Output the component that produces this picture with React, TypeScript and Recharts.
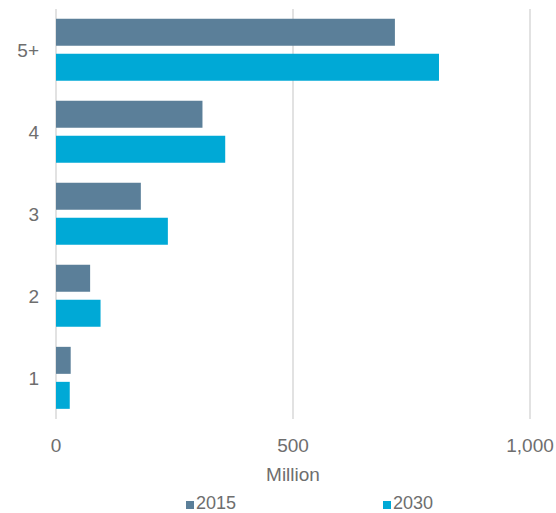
import React from 'react';
import { BarChart, Bar, XAxis, YAxis, CartesianGrid, Legend } from 'recharts';

const categories = ['5+', '4', '3', '2', '1'];
const values2015 = [715, 309, 179, 72, 31];
const values2030 = [808, 357, 236, 94, 29];
const xTicks = [0, 500, 1000];
const seriesNames = ['2015', '2030'];
const seriesColors = ['#5B7F99', '#00A9D6'];

const data = categories.map((c, i) => ({ name: c, v2015: values2015[i], v2030: values2030[i] }));

const FONT = '"Liberation Sans", Arial, sans-serif';
const TEXT = '#6e6e6e';

const fmt = (v: number) => v.toLocaleString('en-US');

const LegendContent = () => (
  <div style={{ display: 'flex', paddingLeft: 186, gap: 147, height: 20, alignItems: 'center', fontFamily: FONT, fontSize: 18, lineHeight: '18px', color: TEXT }}>
    {seriesNames.map((n, i) => (
      <div key={n} style={{ display: 'flex', alignItems: 'flex-end' }}>
        <span style={{ display: 'inline-block', width: 8, height: 8, background: seriesColors[i], marginRight: 2, marginBottom: 3 }} />
        <span>{n}</span>
      </div>
    ))}
  </div>
);

export default function App() {
  return (
    <div style={{ position: 'absolute', left: 0, top: 0, background: '#fff' }}>
      <BarChart
        width={556}
        height={513}
        data={data}
        layout="vertical"
        margin={{ top: 9, right: 26, left: 0, bottom: 0 }}
        barGap={8}
        barCategoryGap="12%"
      >
        <CartesianGrid horizontal={false} stroke="#d9d9d9" strokeWidth={1.5} />
        <XAxis
          type="number"
          domain={[0, 1000]}
          ticks={xTicks}
          tickFormatter={fmt}
          axisLine={false}
          tickLine={false}
          tickMargin={14}
          height={74}
          tick={{ fill: TEXT, fontSize: 19, fontFamily: FONT }}
          label={{ value: 'Million', position: 'insideBottom', offset: 12, fill: TEXT, fontSize: 19, fontFamily: FONT }}
        />
        <YAxis
          type="category"
          dataKey="name"
          width={56}
          axisLine={false}
          tickLine={false}
          tickMargin={11}
          tick={{ fill: TEXT, fontSize: 19, fontFamily: FONT }}
        />
        <Legend verticalAlign="bottom" height={20} content={<LegendContent />} />
        <Bar dataKey="v2015" name="2015" fill={seriesColors[0]} isAnimationActive={false} />
        <Bar dataKey="v2030" name="2030" fill={seriesColors[1]} isAnimationActive={false} />
      </BarChart>
    </div>
  );
}
